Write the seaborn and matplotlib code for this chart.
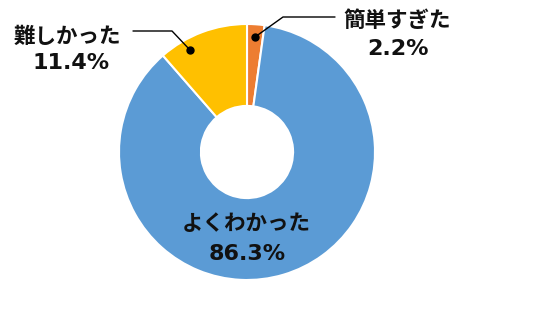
import matplotlib
matplotlib.use("Agg")
import matplotlib.pyplot as plt
import seaborn as sns

categories = ["簡単すぎた", "よくわかった", "難しかった"]
values = [2.2, 86.3, 11.4]
value_labels = ["2.2%", "86.3%", "11.4%"]
colors = ["#ED7D31", "#5B9BD5", "#FFC000"]

sns.set_theme(style="white")
plt.rcParams['font.family'] = ['Noto Sans CJK JP', 'DejaVu Sans']

W, H = 555, 312
fig = plt.figure(figsize=(W / 100, H / 100), dpi=100)
cx, cy, R = 247, 152, 128
ax = fig.add_axes([(cx - R) / W, (H - cy - R) / H, 2 * R / W, 2 * R / H])

pal = sns.color_palette(colors)
ax.pie(values, colors=pal, startangle=90, counterclock=False,
       radius=1.0, wedgeprops=dict(width=0.64, edgecolor="white", linewidth=1.5))
ax.set_xlim(-1, 1)
ax.set_ylim(-1, 1)
ax.set_aspect("equal")
ax.axis("off")

def d(px, py):
    return ((px - cx) / R, (cy - py) / R)

name_txt = dict(fontsize=15.5, fontweight="bold", color="#111111",
                ha="center", va="center", clip_on=False)
val_txt = dict(fontsize=16, fontweight="bold", color="#111111",
               ha="center", va="center", clip_on=False,
               family=["DejaVu Sans"])

# labels
name_pos = [d(397, 20), d(246, 224), d(67, 36)]
val_pos = [d(398, 49), d(247, 254), d(71, 63)]
for name, vl, npos, vpos in zip(categories, value_labels, name_pos, val_pos):
    ax.text(*npos, name, **name_txt)
    ax.text(*vpos, vl, **val_txt)

# leader lines
leaders = [
    [d(335, 17), d(283, 17), d(255, 37)],
    [d(133, 31), d(172, 31), d(190, 50)],
]
for pts in leaders:
    xs = [p[0] for p in pts]
    ys = [p[1] for p in pts]
    ax.plot(xs, ys, color="black", lw=1.0, clip_on=False)
    ax.plot(xs[-1], ys[-1], "o", color="black", ms=5, clip_on=False)

fig.savefig("out.png", dpi=100, facecolor="white")
